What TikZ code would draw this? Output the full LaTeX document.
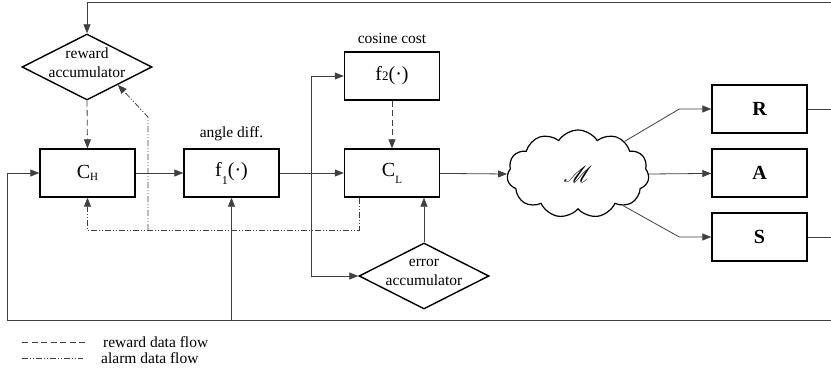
\documentclass[tikz,border=0pt]{standalone}
\usepackage{fontspec}
\setmainfont{Liberation Serif}
\usepackage{mathrsfs}
\usetikzlibrary{arrows.meta,shapes.geometric,shapes.symbols,calc,positioning}

% lowered small index after a letter
\newcommand{\lowidx}[3]{\raisebox{-#2}{\fontsize{#3}{#3}\selectfont #1}}

\tikzset{
  block/.style={draw=black, line width=1.4pt, minimum width=95pt, minimum height=48pt,
                inner sep=0pt, font=\fontsize{20}{22}\selectfont},
  accum/.style={draw=black, line width=1.4pt, shape=diamond, minimum width=130pt,
                minimum height=66pt, inner sep=0pt},
  caption/.style={font=\fontsize{15.5}{19}\selectfont, align=center, inner sep=0pt},
  wire/.style={draw=black!75, line width=0.8pt},
  tip/.style={-{Triangle[length=9pt,width=7pt]}},
  reward/.style={wire, dash pattern=on 6pt off 3.5pt},
  alarm/.style={wire, dash pattern=on 6pt off 2pt on 1pt off 2pt on 1pt off 2pt},
}

\begin{document}
\begin{tikzpicture}[x=1pt, y=-1pt]
\useasboundingbox (0,0) rectangle (831,370);

% blocks
\node[block] (CH) at (87.5,173) {C\lowidx{H}{1.5pt}{11}};
\node[block] (F1) at (231.5,173) {f\lowidx{1}{8pt}{12}(·)};
\node[block] (CL) at (392,173) {C\lowidx{L}{7pt}{11}};
\node[block] (F2) at (392,76) {f\lowidx{2}{0pt}{13}(·)};
\node[block, font=\fontsize{20}{22}\selectfont\bfseries] (R) at (759.5,109) {R};
\node[block, font=\fontsize{20}{22}\selectfont\bfseries] (A) at (759.5,173) {A};
\node[block, font=\fontsize{20}{22}\selectfont\bfseries] (S) at (759.5,237) {S};

% accumulators
\node[accum, label={[caption, yshift=4pt]center:reward\\accumulator}] (RA) at (87,67) {};
\node[accum, label={[caption, yshift=4pt]center:error\\accumulator}] (EA) at (424,276) {};

% plant
\node[cloud, draw=black, line width=1.2pt, cloud puffs=11, cloud puff arc=115,
      cloud ignores aspect, minimum width=142pt, minimum height=88pt, inner sep=0pt]
      (M) at (578,174) {\scalebox{2.3}{$\mathscr{M}$}};

% captions
\node[caption, above=7pt of F1] (angle) {angle diff.};
\node[caption, above=7pt of F2] (cosine) {cosine cost};

% free ends and junctions
\coordinate (topR) at (831,2);
\coordinate (botR) at (831,320);
\coordinate (Rout) at (831,109);
\coordinate (Sout) at (831,237);
\coordinate (split) at (311,173);
\coordinate (feedF1) at (231.5,320);
\coordinate (alarmL) at (359,230);
\coordinate (alarmB) at (148,230);

% forward path
\draw[wire, tip] (CH) -- (F1);
\draw[wire, tip] (F1) -- (CL);
\draw[wire, tip] (CL) -- (M.west);
\draw[wire, tip] (M.east) -- (A);
\draw[wire, tip] (M.35) -- ([xshift=-32pt]R.west) -- (R.west);
\draw[wire, tip] (M.-35) -- ([xshift=-32pt]S.west) -- (S.west);
\draw[wire] (R.east) -- (Rout);
\draw[wire] (S.east) -- (Sout);

% cost branches
\draw[wire, tip] (split) |- (F2.west);
\draw[wire, tip] (split) |- (EA.west);
\draw[wire, tip] (EA.north) -- (EA.north |- CL.south);

% feedback loops
\draw[wire, tip] (topR) -| (RA.north);
\draw[wire, tip] (botR) -- (7,320) |- (CH.west);
\draw[wire, tip] (feedF1) -- (F1.south);

% reward data flow
\draw[reward, tip] (RA.south) -- (CH.north);
\draw[reward, tip] (F2.south) -- (CL.north);

% alarm data flow
\draw[alarm, tip] (CL.south -| alarmL) -- (alarmL) -| (CH.south);
\draw[alarm, tip] (alarmB) -- (148,117) -- (RA.-30);

% legend
\draw[reward] (22,342) -- (87,342);
\node[caption, anchor=west] (legR) at (103,342) {reward data flow};
\draw[alarm] (22,358) -- (83,358);
\node[caption, anchor=west] (legA) at (101,358) {alarm data flow};
\end{tikzpicture}
\end{document}
